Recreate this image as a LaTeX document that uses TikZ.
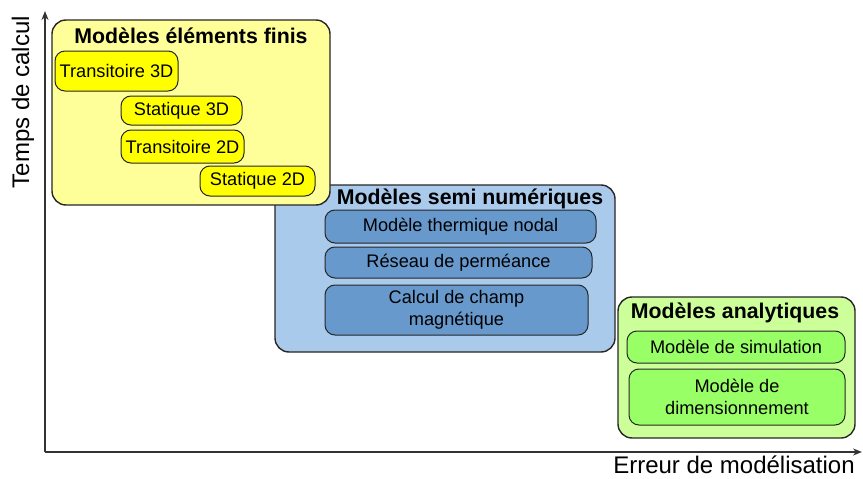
\documentclass[tikz,border=0pt]{standalone}
\usepackage{fontspec}
\setmainfont{Liberation Sans}
\usepackage{tikz}
\usetikzlibrary{arrows.meta,positioning}
\definecolor{femouter}{RGB}{255,255,153}
\definecolor{feminner}{RGB}{255,255,0}
\definecolor{semiouter}{RGB}{170,202,236}
\definecolor{semiinner}{RGB}{104,153,205}
\definecolor{anaouter}{RGB}{204,255,153}
\definecolor{anainner}{RGB}{153,255,102}
\newcommand{\modelfont}{\fontsize{18.2}{21.5}\selectfont}
\newcommand{\groupfont}{\fontsize{21.3}{24}\selectfont\bfseries}
\newcommand{\axisfont}{\fontsize{24}{28}\selectfont}
\tikzset{
    group box/.style={draw=black!85,line width=1.4pt,rounded corners=14pt,inner sep=0pt},
    model box/.style={draw=black!85,line width=1pt,rounded corners=10pt,inner sep=0pt,align=center,font=\modelfont},
    group title/.style={inner sep=0pt,font=\groupfont},
    axis arr/.style={-{Stealth[length=9pt,width=7pt]},line width=1.8pt,draw=black!80},
    axis label/.style={inner sep=0pt,font=\axisfont},
}
\begin{document}
\begin{tikzpicture}[x=1pt,y=-1pt]
    \useasboundingbox (0,0) rectangle (863,479);
    % axes
    \coordinate (origin) at (45,452);
    \coordinate (ytip) at (45,11);
    \coordinate (xtip) at (862,452);
    \draw[axis arr] (origin) -- (ytip);
    \draw[axis arr] (origin) -- (xtip);
    \node[axis label,rotate=90] (ylab) at (23,102) {Temps de calcul};
    \node[axis label] (xlab) at (734,465) {Erreur de modélisation};

    % semi numeriques
    \node[group box,fill=semiouter,minimum width=340,minimum height=167] (semi) at (445,268.5) {};
    \node[group title] (semititle) at (470,199) {Modèles semi numériques};
    \node[model box,fill=semiinner,minimum width=271,minimum height=33] (nodal) at (460.5,226.5) {Modèle thermique nodal};
    \node[model box,fill=semiinner,minimum width=267,minimum height=31] (reseau) at (458.5,262.5) {Réseau de perméance};
    \node[model box,fill=semiinner,minimum width=263,minimum height=50] (champ) at (456.5,310) {Calcul de champ\\magnétique};

    % elements finis
    \node[group box,fill=femouter,minimum width=278,minimum height=185] (fem) at (191,112.5) {};
    \node[group title] (femtitle) at (191,36) {Modèles éléments finis};
    \node[model box,fill=feminner,minimum width=123,minimum height=40] (trans3d) at (116.5,71) {Transitoire 3D};
    \node[model box,fill=feminner,minimum width=121,minimum height=29] (stat3d) at (181.5,110.5) {Statique 3D};
    \node[model box,fill=feminner,minimum width=123,minimum height=33] (trans2d) at (182.5,146.5) {Transitoire 2D};
    \node[model box,fill=feminner,minimum width=115,minimum height=30] (stat2d) at (257.5,181) {Statique 2D};

    % analytiques
    \node[group box,fill=anaouter,minimum width=237,minimum height=141] (ana) at (736.5,367.5) {};
    \node[group title] (anatitle) at (735,313) {Modèles analytiques};
    \node[model box,fill=anainner,minimum width=218,minimum height=32] (simu) at (736,347) {Modèle de simulation};
    \node[model box,fill=anainner,minimum width=216,minimum height=56] (dimens) at (737,397) {Modèle de\\dimensionnement};
\end{tikzpicture}
\end{document}
